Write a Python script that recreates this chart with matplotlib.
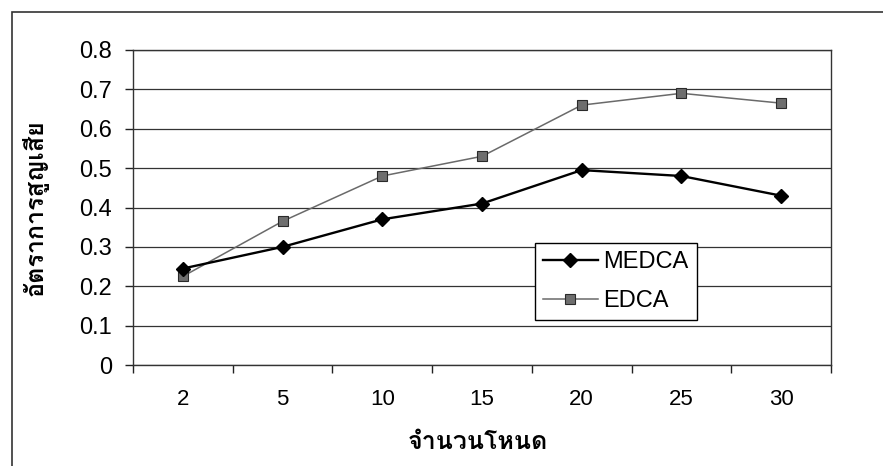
import matplotlib
matplotlib.use("Agg")
import matplotlib.pyplot as plt
from matplotlib import font_manager as fm
from matplotlib.ft2font import FT2Font
from matplotlib.patches import Rectangle

categories = ["2", "5", "10", "15", "20", "25", "30"]
medca = [0.245, 0.30, 0.37, 0.41, 0.495, 0.48, 0.43]
edca = [0.225, 0.365, 0.48, 0.53, 0.66, 0.69, 0.665]
yticks = [0, 0.1, 0.2, 0.3, 0.4, 0.5, 0.6, 0.7, 0.8]
ytick_labels = ["0", "0.1", "0.2", "0.3", "0.4", "0.5", "0.6", "0.7", "0.8"]
xlabel = "จำนวนโหนด"
ylabel = "อัตราการสูญเสีย"


def find_thai_font():
    # cherche une police qui contient les glyphes thai
    found = []
    for f in fm.fontManager.ttflist:
        try:
            cmap = FT2Font(f.fname).get_charmap()
        except Exception:
            continue
        if 0x0E08 in cmap and 0x0E2D in cmap:
            found.append(f)
    for f in found:
        if f.weight in ("bold", 700):
            return f.name
    return found[0].name if found else None


thai = find_thai_font()
thai_family = [thai, "DejaVu Sans"] if thai else ["DejaVu Sans"]
plt.rcParams["font.family"] = ["Liberation Sans", "DejaVu Sans"]

fig = plt.figure(figsize=(8.83, 4.66), dpi=100)
ax = fig.add_axes([133 / 883, 1 - 365 / 466, 698 / 883, 315 / 466])

x = list(range(len(categories)))
ax.plot(x, medca, color="black", lw=1.7, marker="D", ms=7.5,
        mfc="black", mec="black", label="MEDCA", zorder=4)
ax.plot(x, edca, color="#6a6a6a", lw=1.1, marker="s", ms=7,
        mfc="#6e6e6e", mec="#2a2a2a", mew=0.8, label="EDCA", zorder=3)

ax.set_ylim(0, 0.8)
ax.set_xlim(-0.5, len(categories) - 0.5)
ax.set_yticks(yticks)
ax.set_yticklabels(ytick_labels)
ax.yaxis.grid(True, color="#333333", lw=0.9)
ax.set_axisbelow(True)

# ticks entre les categories, labels au centre
ax.set_xticks([i - 0.5 for i in range(len(categories) + 1)])
ax.set_xticklabels([])
ax.set_xticks(x, minor=True)
ax.set_xticklabels(categories, minor=True)
ax.tick_params(axis="x", which="major", direction="out", length=6, width=1, color="#222222")
ax.tick_params(axis="x", which="minor", length=0, pad=17, labelsize=16)
ax.tick_params(axis="y", direction="out", length=6, width=1, color="#222222",
               pad=9, labelsize=17)

for s in ax.spines.values():
    s.set_color("#333333")
    s.set_linewidth(1)

xl = ax.set_xlabel(xlabel, family=thai_family, fontweight="bold", fontsize=18)
yl = ax.set_ylabel(ylabel, family=thai_family, fontweight="bold", fontsize=18)
ax.xaxis.set_label_coords(0.494, -0.245)
ax.yaxis.set_label_coords(-0.14, 0.50)
xl.set_va("center")
yl.set_va("center")

leg = ax.legend(loc="upper left", bbox_to_anchor=(0.576, 0.387), borderaxespad=0,
                fancybox=False, edgecolor="black", fontsize=17,
                handlelength=2.3, handletextpad=0.25, borderpad=0.35,
                labelspacing=0.7, framealpha=1)
leg.get_frame().set_linewidth(1)

# cadre du graphique (coupe a droite et en bas)
fig.patches.append(Rectangle((12 / 883, -0.1), 1.2, 0.1 + 1 - 12 / 466,
                             transform=fig.transFigure, fill=False,
                             edgecolor="#333333", lw=1.2))

fig.savefig("out.png", dpi=100, facecolor="white")
